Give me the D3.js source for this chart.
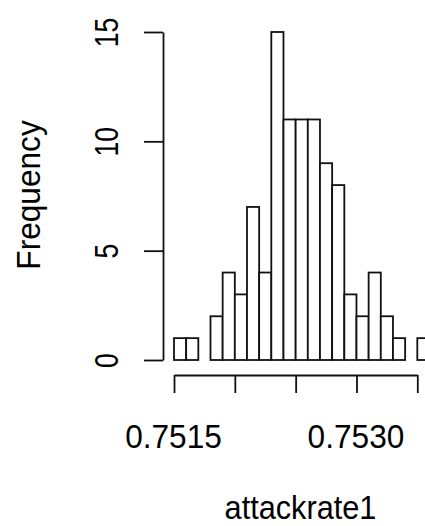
<!DOCTYPE html>
<html>
<head>
<meta charset="utf-8">
<script src="https://cdn.jsdelivr.net/npm/d3@7"></script>
<style>
  html, body { margin: 0; padding: 0; background: #fff; }
  svg { display: block; overflow: hidden; }
  text { font-family: "Liberation Sans", Arial, sans-serif; fill: #000; }
</style>
</head>
<body>
<svg id="chart" width="425" height="526"></svg>
<script>
// Histogram of attackrate1: bin edges and counts per bin
const breaks = [0.7515, 0.7516, 0.7517, 0.7518, 0.7519, 0.7520, 0.7521, 0.7522,
                0.7523, 0.7524, 0.7525, 0.7526, 0.7527, 0.7528, 0.7529, 0.7530,
                0.7531, 0.7532, 0.7533, 0.7534, 0.7535, 0.7536];
const counts = [1, 1, 0, 2, 4, 3, 7, 4, 15, 11, 11, 11, 9, 8, 3, 2, 4, 2, 1, 0, 1];

const xTicks = [0.7515, 0.7520, 0.7525, 0.7530, 0.7535];
const xTickLabels = ["0.7515", "", "", "0.7530", ""];
const yTicks = [0, 5, 10, 15];
const yTickLabels = ["0", "5", "10", "15"];

const xLabel = "attackrate1";
const yLabel = "Frequency";

const bins = counts.map((c, i) => ({ x0: breaks[i], x1: breaks[i + 1], count: c }));

const svg = d3.select("#chart");

const x = d3.scaleLinear().domain([0.7515, 0.7535]).range([174, 417.3]);
const y = d3.scaleLinear().domain([0, 15]).range([360, 32]);

const stroke = "#111";
const sw = 1.8;

// bars
svg.append("g")
  .selectAll("rect")
  .data(bins)
  .join("rect")
  .attr("x", d => x(d.x0))
  .attr("width", d => x(d.x1) - x(d.x0))
  .attr("y", d => y(d.count))
  .attr("height", d => y(0) - y(d.count))
  .attr("fill", "#fff")
  .attr("stroke", stroke)
  .attr("stroke-width", sw);

// x axis
const gx = svg.append("g")
  .attr("transform", "translate(0,375)")
  .call(d3.axisBottom(x)
    .tickValues(xTicks)
    .tickSize(18)
    .tickSizeOuter(0)
    .tickFormat((d, i) => xTickLabels[i]));
gx.attr("font-family", null).attr("font-size", null);
gx.selectAll("path, line").attr("stroke", stroke).attr("stroke-width", sw);
gx.selectAll("text")
  .attr("y", null).attr("dy", null)
  .attr("transform", "translate(-1,73) scale(0.93,1)")
  .style("font-size", "34px")
  .attr("fill", "#000");

// y axis
const gy = svg.append("g")
  .attr("transform", "translate(163,0)")
  .call(d3.axisLeft(y)
    .tickValues(yTicks)
    .tickSize(19)
    .tickSizeOuter(0)
    .tickFormat((d, i) => yTickLabels[i]));
gy.attr("font-family", null).attr("font-size", null);
gy.selectAll("path, line").attr("stroke", stroke).attr("stroke-width", sw);
gy.selectAll("text")
  .attr("x", 0).attr("y", -45).attr("dy", null)
  .attr("text-anchor", "middle")
  .attr("transform", "rotate(-90) scale(0.78,1)")
  .style("font-size", "34px")
  .attr("fill", "#000");

// axis titles
svg.append("text")
  .attr("transform", "translate(300.5,519) scale(0.93,1)")
  .attr("text-anchor", "middle")
  .style("font-size", "33px")
  .text(xLabel);

svg.append("text")
  .attr("transform", "translate(40,195) rotate(-90) scale(0.93,1)")
  .attr("text-anchor", "middle")
  .style("font-size", "34px")
  .text(yLabel);
</script>
</body>
</html>
